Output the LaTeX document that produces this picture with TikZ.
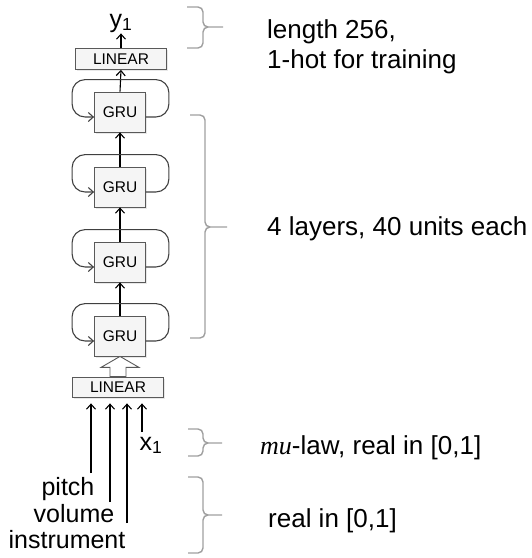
\documentclass[tikz,border=0pt]{standalone}
\usepackage{fontspec}
\setmainfont{Liberation Sans}
\newfontfamily\muserif{Liberation Serif}
\usetikzlibrary{arrows.meta,shadows}

\tikzset{
    box/.style={draw=gray!70!black, fill=gray!8, line width=0.8pt, inner sep=0pt,
        font=\fontsize{15.5}{18}\selectfont,
        drop shadow={opacity=0.18, shadow xshift=1.5pt, shadow yshift=-1.5pt}},
    gru/.style={box, minimum width=51pt, minimum height=40pt},
    linear/.style={box, minimum width=91pt, minimum height=21pt},
    lefttext/.style={font=\fontsize{25}{30}\selectfont, inner sep=0pt},
    righttext/.style={font=\fontsize{26}{31}\selectfont, inner sep=0pt, anchor=base west},
    flow/.style={-{Straight Barb[length=5pt,width=9pt]}, line width=1.1pt},
    recur/.style={flow, draw=black!75, rounded corners=13pt},
    bracket/.style={draw=gray!75, line width=1.4pt, rounded corners=5pt},
    hollow/.style={draw=gray!70!black, fill=white, line width=0.9pt}
}

\begin{document}
\begin{tikzpicture}[x=1pt, y=-1pt]
        \useasboundingbox (0,0) rectangle (532,558);

        % Output side
        \node[linear] (lin_out) at (121,59) {LINEAR};
        \node[lefttext, anchor=base] (y1) at (121,27) {y\textsubscript{1}};
        \draw[flow, shorten >=1pt] (lin_out.north) -- (y1.south);

        % GRU stack
        \foreach \i/\y in {1/112,2/187,3/262,4/336}
            \node[gru] (gru\i) at (120,\y) {GRU};
        \draw[flow] (gru1.north) -- (lin_out.south);
        \draw[flow] (gru2.north) -- (gru1.south);
        \draw[flow] (gru3.north) -- (gru2.south);
        \draw[flow] (gru4.north) -- (gru3.south);

        % Recurrent loops
        \foreach \i in {1,...,4}
            \draw[recur] ([yshift=-5pt]gru\i.east) -- ++(23,0)
                |- ([yshift=12pt]gru\i.north)
                -| ([xshift=-22pt,yshift=-5pt]gru\i.west)
                -- ([yshift=-5pt]gru\i.west);

        % Input side
        \node[linear, minimum height=20pt] (lin_in) at (118,387) {LINEAR};
        \draw[hollow] ([xshift=-8pt]lin_in.north)
            |- ([xshift=-19pt,yshift=-11pt]gru4.south) -- (gru4.south)
            -- ([xshift=19pt,yshift=-11pt]gru4.south)
            -| ([xshift=8pt]lin_in.north) -- cycle;

        \coordinate (pitch_in) at (91,473);
        \coordinate (volume_in) at (110,502);
        \coordinate (instr_in) at (127,523);
        \coordinate (x1_in) at (142,432);
        \foreach \c in {pitch_in,volume_in,instr_in,x1_in}
            \draw[flow, shorten >=6pt] (\c) -- (\c |- lin_in.south);

        \node[lefttext, anchor=base] (x1) at (151,450) {x\textsubscript{1}};
        \node[lefttext, anchor=base] (pitch) at (68,495) {pitch};
        \node[lefttext, anchor=base] (volume) at (74,522) {volume};
        \node[lefttext, anchor=base] (instrument) at (67,548) {instrument};

        % Braces
        \foreach \xa/\xb/\xc/\ya/\ym/\yb in {187/203/223/7/27/48, 190/205/227/115/227/338,
                188/203/222/429/443/456, 188/203/222/477/515/553}
            \draw[bracket] (\xa,\ya) -- (\xb,\ya) -- (\xb,\ym) -- (\xc,\ym)
                (\xa,\yb) -- (\xb,\yb) -- (\xb,\ym) -- (\xc,\ym);

        % Notes
        \node[righttext] (len_a) at (267,38) {length 256,};
        \node[righttext] (len_b) at (267,68) {1-hot for training};
        \node[righttext] (layers) at (267,235) {4 layers, 40 units each};
        \node[righttext] (mulaw) at (260,454) {{\muserif\itshape mu}-law, real in [0,1]};
        \node[righttext] (real) at (268,527) {real in [0,1]};
    \end{tikzpicture}
\end{document}
